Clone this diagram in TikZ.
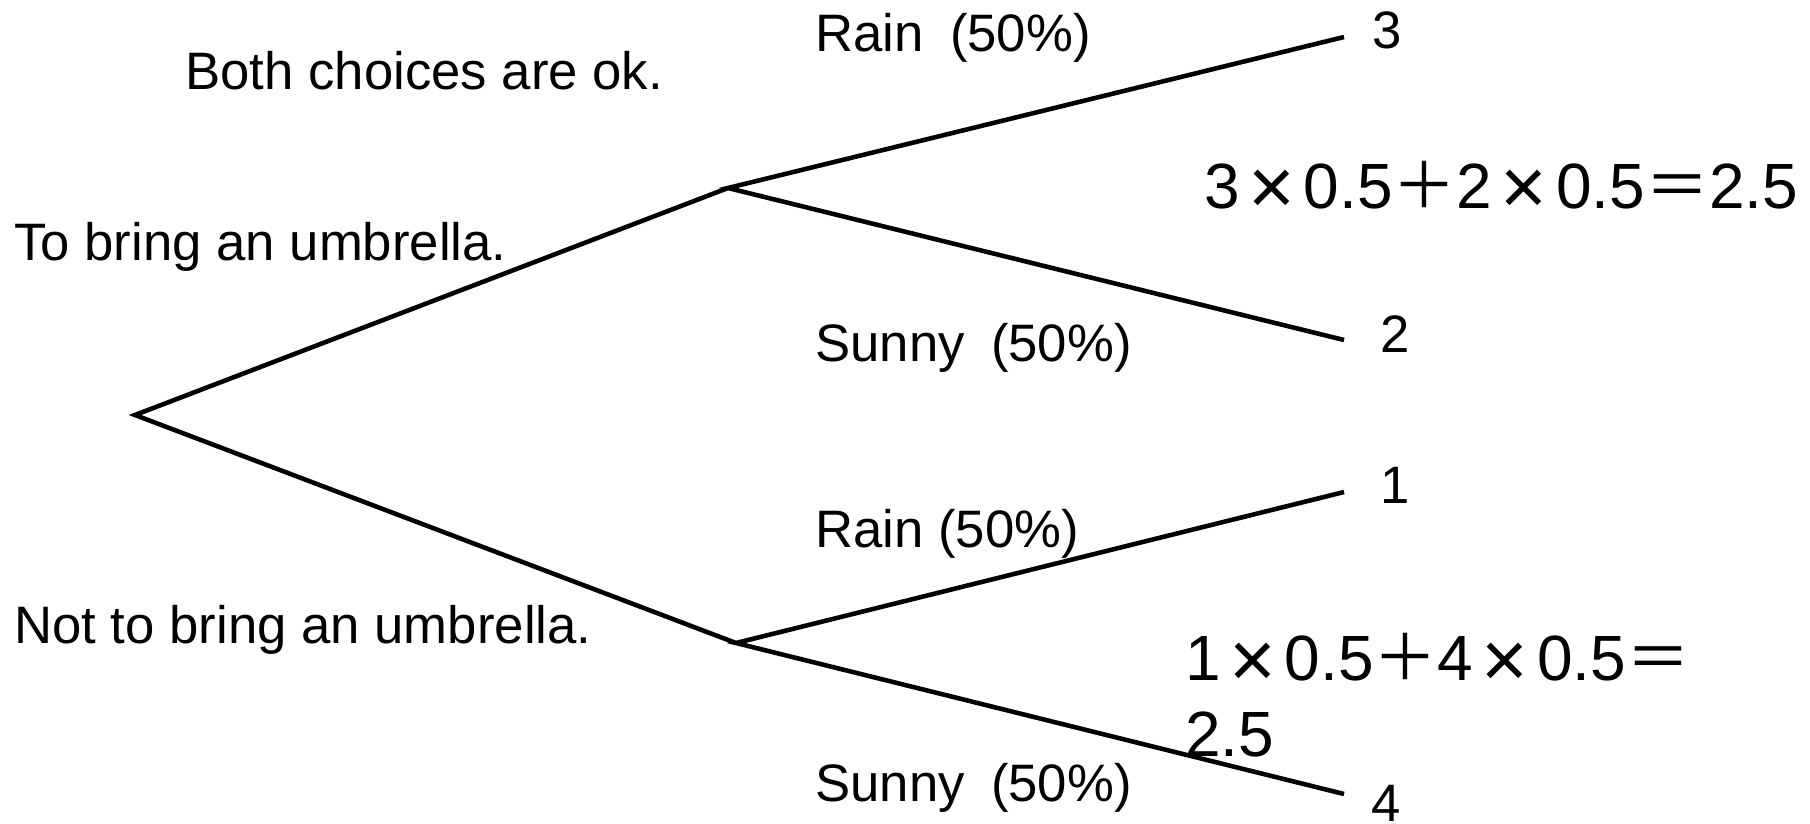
\documentclass[tikz,border=0pt]{standalone}
\usepackage{fontspec}
\usepackage{graphicx}
\setmainfont{Liberation Sans}
\newfontfamily\cjk{Noto Sans CJK JP}
\usetikzlibrary{positioning}
\newcommand{\tms}{\makebox[1em]{\raisebox{-0.1em}{\scalebox{1.25}{×}}}}

\begin{document}
\begin{tikzpicture}[
            x=0.02cm,y=-0.02cm,
            branch/.style={draw=black,line width=2.6pt},
            lbl/.style={inner sep=0pt,anchor=base west,font=\fontsize{30}{36}\selectfont},
            payoff/.style={inner sep=0pt,anchor=base west,font=\fontsize{30}{36}\selectfont},
            formula/.style={inner sep=0pt,anchor=base west,align=left,
              font=\fontsize{36.4}{42.7}\selectfont}
          ]
          \useasboundingbox (0,0) rectangle (1810,823);
          % decision and chance points
          \coordinate (root) at (135,415);
          \coordinate (up) at (728,188);
          \coordinate (down) at (736,643);
          \coordinate (e3) at (1344,37);
          \coordinate (e2) at (1344,340);
          \coordinate (e1) at (1344,492);
          \coordinate (e4) at (1344,794);
          \draw[branch] (up) -- (root) -- (down);
          \draw[branch] (e3) -- (up) -- (e2);
          \draw[branch] (e1) -- (down) -- (e4);
          % payoffs
          \node[payoff] (p3) at (1372,48) {3};
          \node[payoff] (p2) at (1380,352) {2};
          \node[payoff] (p1) at (1380,503) {1};
          \node[payoff] (p4) at (1371,821) {4};
          % texts
          \node[lbl] (ok) at (185,89) {Both choices are ok.};
          \node[lbl] (bring) at (14,260) {To bring an umbrella.};
          \node[lbl] (notbring) at (14,643) {Not to bring an umbrella.};
          \node[lbl] (rainA) at (815,51) {Rain\enspace(50\%)};
          \node[lbl] (sunA) at (815,361) {Sunny\enspace(50\%)};
          \node[lbl] (rainB) at (815,547) {Rain (50\%)};
          \node[lbl] (sunB) at (815,801) {Sunny\enspace(50\%)};
          % expected values
          \node[formula] (evA) at (1204,208) {3\tms0.5{\cjk ＋}2\tms0.5{\cjk ＝}2.5};
          \node[formula] (evB) at (1185,756) {1\tms0.5{\cjk ＋}4\tms0.5{\cjk ＝}\\2.5};
        \end{tikzpicture}
\end{document}
